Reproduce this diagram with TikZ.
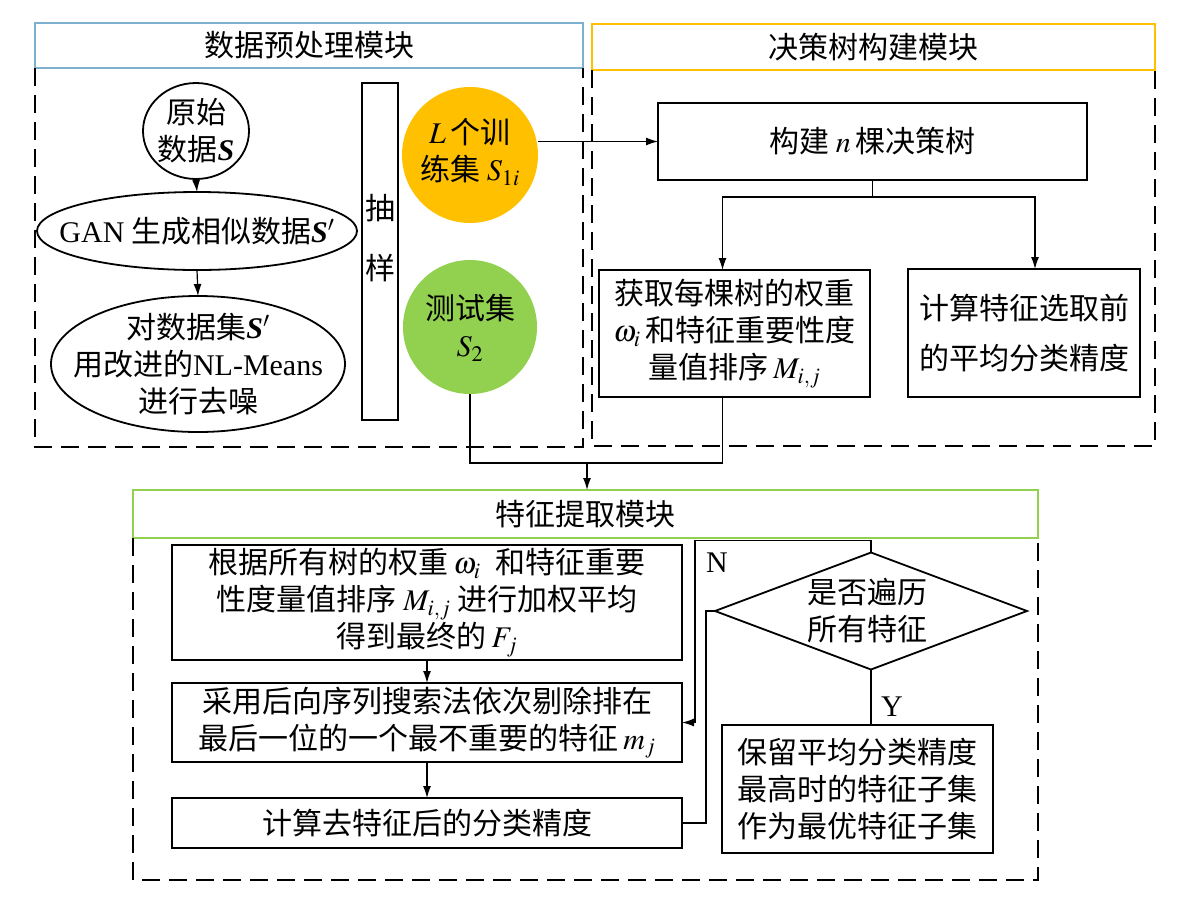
\documentclass[tikz,border=0pt]{standalone}
\usepackage{mathptmx}
\usepackage{fontspec}
\setmainfont{Noto Sans CJK SC}
\newfontfamily\lat{Liberation Serif}
\usetikzlibrary{shapes.geometric,arrows.meta}
\definecolor{hblue}{HTML}{7EB0CF}
\definecolor{horange}{HTML}{FFC000}
\definecolor{hgreen}{HTML}{92D050}
\newcommand{\bS}{{\lat\bfseries\itshape S}}
\begin{document}
\begin{tikzpicture}[x=1pt,y=-1pt,
  every node/.style={font=\fontsize{30}{37}\selectfont, align=center, inner sep=0pt, outer sep=0pt},
  box/.style={draw, line width=1.8pt, rectangle},
  hdr/.style={draw, line width=1.6pt, rectangle},
  region/.style={draw, line width=1.3pt, dash pattern=on 18pt off 9pt},
  conn/.style={draw, line width=1.2pt},
  arr/.style={conn, -{Latex[length=12pt,width=8pt]}},
  shp/.style={draw, line width=1.8pt, ellipse},
  txt/.style={}]
\useasboundingbox (0,0) rectangle (1200,898);

% headers
\node[hdr, draw=hblue, minimum width=548pt, minimum height=45pt] (hdrA) at (309,45.5) {数据预处理模块};
\node[hdr, draw=horange, minimum width=563pt, minimum height=46pt] (hdrB) at (873.5,47) {决策树构建模块};
\node[hdr, draw=hgreen, minimum width=905pt, minimum height=48pt] (hdrC) at (585.5,514) {特征提取模块};

% dashed regions
\draw[region] (hdrA.south west) -- (35,447) -- (583,447) -- (hdrA.south east);
\draw[region] (hdrB.south west) -- (592,446) -- (1155,446) -- (hdrB.south east);
\draw[region] (hdrC.south west) -- (133,880) -- (1038,880) -- (hdrC.south east);

% preprocessing module
\node[shp, minimum width=106pt, minimum height=96pt] (orig) at (196,131) {};
\node[txt] (origt) at (orig) {原始\\数据\bS};
\node[shp, minimum width=320pt, minimum height=78pt] (e1) at (197,231) {};
\node[txt] (e1t) at (e1) {{\lat GAN} 生成相似数据\bS$'$};
\node[shp, minimum width=294pt, minimum height=136pt] (e2) at (198,364) {};
\node[txt] (e2t) at (e2) {对数据集\bS$'$\\用改进的{\lat NL-Means}\\进行去噪};
\node[box, minimum width=36pt, minimum height=337pt] (samp) at (380,251.5) {};
\node[txt] (sampt) at (380,238) {抽\\[23pt]样};
\node[circle, fill=horange, minimum size=136pt] (oc) at (470,155) {};
\node[txt] (oct) at (470,152) {$L$\,个训\\练集 $S_{1i}$};
\node[circle, fill=hgreen, minimum size=134pt] (gc) at (470,327) {};
\node[txt] (gct) at (470,328) {测试集\\$S_2$};

\draw[arr] (orig.south) -- (e1.north);
\draw[arr] (e1.south) -- (e2.north);

% decision tree module
\node[box, minimum width=429pt, minimum height=77pt] (build) at (872.5,141.5) {构建 $n$\,棵决策树};
\node[box, minimum width=271pt, minimum height=127pt] (get) at (734.5,333.5) {获取每棵树的权重\\$\omega_i$\,和特征重要性度\\量值排序\,$M_{i,j}$};
\node[box, minimum width=232pt, minimum height=128pt, font=\fontsize{30}{50}\selectfont] (calc) at (1024,333) {计算特征选取前\\的平均分类精度};

\draw[arr] (oc.east |- build.west) -- (build.west);
\draw[arr] (build.south) -- ++(0,17) -| ([xshift=-12pt]get.north);
\draw[arr] (build.south) -- ++(0,17) -| ([xshift=11pt]calc.north);

% junction to feature module
\coordinate (jn) at (587,463);
\draw[conn] (gc.south) |- (jn) -| ([xshift=-12pt]get.south);
\draw[arr] (jn) -- (hdrC.north -| jn);

% feature extraction module
\node[box, minimum width=510pt, minimum height=115pt] (f1) at (427,602.5) {根据所有树的权重\,$\omega_i$\; 和特征重要\\性度量值排序 $M_{i,j}$ 进行加权平均\\得到最终的\,$F_j$};
\node[box, minimum width=510pt, minimum height=79pt] (f2) at (427,722.5) {采用后向序列搜索法依次剔除排在\\最后一位的一个最不重要的特征\,$m_j$};
\node[box, minimum width=510pt, minimum height=50pt] (f3) at (427,823) {计算去特征后的分类精度};
\node[diamond, draw, line width=1.8pt, minimum width=312pt, minimum height=117pt] (dia) at (871,611) {};
\node[txt] (diat) at (867,611) {是否遍历\\所有特征};
\node[box, minimum width=271pt, minimum height=128pt] (keep) at (857.5,789) {保留平均分类精度\\最高时的特征子集\\作为最优特征子集};

\draw[arr] (f1.south) -- (f2.north);
\draw[arr] (f2.south) -- (f3.north);
\draw[conn] (f3.east) -- ++(24,0) |- (dia.west);
\draw[arr] (dia.north) -- ++(0,-12) -| ([xshift=13pt]f2.east) -- (f2.east);
\draw[conn] (dia.south) -- (dia.south |- keep.north);
\node[txt, font=\lat\fontsize{30}{36}\selectfont] (nlab) at (717,563) {N};
\node[txt, font=\lat\fontsize{30}{36}\selectfont] (ylab) at (892,707) {Y};
\end{tikzpicture}
\end{document}
